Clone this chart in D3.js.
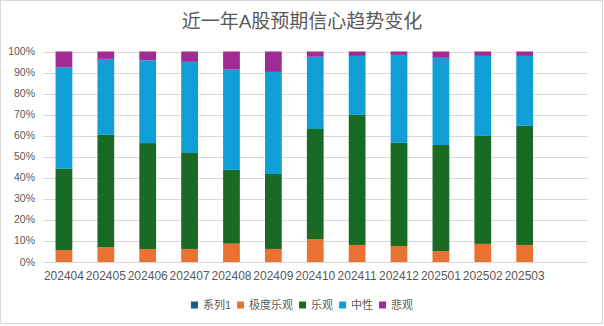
<!DOCTYPE html>
<html lang="zh">
<head>
  <meta charset="UTF-8">
  <title>近一年A股预期信心趋势变化</title>
  <script src="https://d3js.org/d3.v7.min.js"></script>
  <style>
    body { margin: 0; background: #fff; }
    svg { display: block; font-family: "Liberation Sans", "Noto Sans CJK SC", sans-serif; }
    .grid line { stroke: #d9d9d9; stroke-width: 1; }
    .tick-label { fill: #595959; }
  </style>
</head>
<body>
  <svg width="604" height="326"></svg>
  <script>
    // monthly sentiment shares (%), one array per series
    const months = ["202404", "202405", "202406", "202407", "202408", "202409",
                    "202410", "202411", "202412", "202501", "202502", "202503", ""];
    const seriesNames = ["系列1", "极度乐观", "乐观", "中性", "悲观"];
    const series1 = [0, 0, 0, 0, 0, 0, 0, 0, 0, 0, 0, 0, 0];
    const extremelyOptimistic = [5.7, 7.1, 6.2, 6.2, 8.7, 6.2, 10.9, 8.1, 7.6, 5.2, 8.6, 8.1, 0];
    const optimistic = [38.5, 53.3, 50.4, 45.6, 35.0, 35.6, 52.3, 61.8, 49.0, 50.4, 51.3, 56.6, 0];
    const neutral = [48.0, 36.1, 39.4, 43.3, 47.6, 48.5, 34.3, 28.0, 41.8, 41.4, 38.0, 33.2, 0];
    const pessimistic = [7.6, 3.5, 4.2, 4.9, 8.5, 9.7, 2.5, 2.1, 1.6, 3.0, 2.1, 2.1, 0];
    const yTicks = [0, 10, 20, 30, 40, 50, 60, 70, 80, 90, 100];

    const colors = ["#156082", "#e97132", "#196b24", "#0f9ed5", "#a02b93"];
    const columns = [series1, extremelyOptimistic, optimistic, neutral, pessimistic];

    const svg = d3.select("svg");
    const margin = {top: 51.5, right: 15, bottom: 64, left: 43};
    const width = 604, height = 326;

    // outer chart border
    svg.append("rect")
      .attr("x", 0.5).attr("y", 0.5)
      .attr("width", 602).attr("height", 323)
      .attr("fill", "#fff").attr("stroke", "#d9d9d9");

    svg.append("text")
      .attr("x", 302).attr("y", 28)
      .attr("text-anchor", "middle")
      .attr("font-size", 19)
      .attr("fill", "#595959")
      .text("近一年A股预期信心趋势变化");

    const table = months.map((m, i) => {
      const row = {month: m};
      seriesNames.forEach((s, j) => { row[s] = columns[j][i]; });
      return row;
    });

    const x = d3.scaleBand()
      .domain(d3.range(months.length))
      .range([margin.left, width - margin.right - 1.5])
      .paddingInner(0.6).paddingOuter(0.3);

    const y = d3.scaleLinear()
      .domain([0, 100])
      .range([height - margin.bottom, margin.top]);

    const g = svg.append("g");

    g.append("g").attr("class", "grid")
      .selectAll("line")
      .data(yTicks)
      .join("line")
      .attr("x1", margin.left).attr("x2", width - margin.right - 1.5)
      .attr("y1", d => Math.round(y(d)) + 0.5)
      .attr("y2", d => Math.round(y(d)) + 0.5);

    g.selectAll(".ylab")
      .data(yTicks)
      .join("text")
      .attr("class", "tick-label")
      .attr("x", 35)
      .attr("y", d => y(d) + 3.5)
      .attr("text-anchor", "end")
      .attr("font-size", 10.5)
      .text(d => d + "%");

    // 100% stacking: normalise each month by its total
    const stack = d3.stack()
      .keys(seriesNames)
      .offset(d3.stackOffsetExpand);
    const stacked = stack(table);

    g.selectAll(".layer")
      .data(stacked)
      .join("g")
      .attr("fill", (d, i) => colors[i])
      .selectAll("rect")
      .data(d => d.map((v, i) => ({v, i})))
      .join("rect")
      .attr("x", d => x(d.i))
      .attr("width", x.bandwidth())
      .attr("y", d => isNaN(d.v[1]) ? 0 : y(d.v[1] * 100))
      .attr("height", d => isNaN(d.v[1]) ? 0 : y(d.v[0] * 100) - y(d.v[1] * 100));

    g.selectAll(".xlab")
      .data(months)
      .join("text")
      .attr("class", "tick-label")
      .attr("x", (d, i) => x(i) + x.bandwidth() / 2)
      .attr("y", 280)
      .attr("text-anchor", "middle")
      .attr("font-size", 12)
      .text(d => d);

    // legend, centred under the plot
    const legend = svg.append("g").attr("transform", "translate(0,305)");
    const items = legend.selectAll("g")
      .data(seriesNames)
      .join("g");
    items.append("rect")
      .attr("y", -3.5).attr("width", 7).attr("height", 7)
      .attr("fill", (d, i) => colors[i]);
    items.append("text")
      .attr("x", 12).attr("y", 4)
      .attr("font-size", 11)
      .attr("fill", "#595959")
      .text(d => d);
    let offset = 0;
    const offsets = [];
    items.each(function() {
      offsets.push(offset);
      offset += 12 + this.querySelector("text").getComputedTextLength() + 6;
    });
    const start = 302 - (offset - 6) / 2;
    items.attr("transform", (d, i) => `translate(${start + offsets[i]},0)`);
  </script>
</body>
</html>
